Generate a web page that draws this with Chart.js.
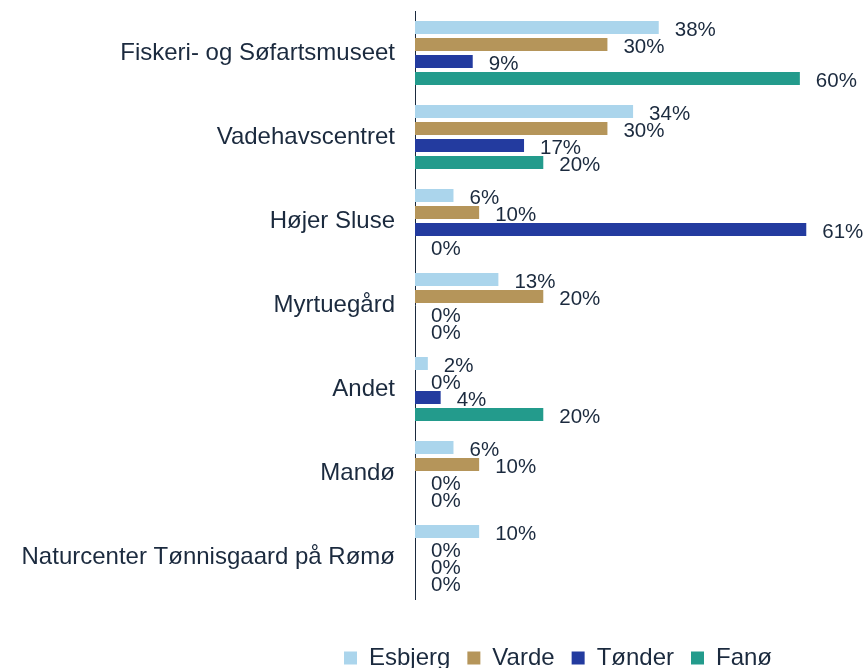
<!DOCTYPE html>
<html>
<head>
<meta charset="utf-8">
<script src="https://cdn.jsdelivr.net/npm/chart.js@4"></script>
<style>
  html, body { margin: 0; padding: 0; background: #fff; }
  #wrap { width: 864px; height: 668px; }
</style>
</head>
<body>
<div id="wrap"><canvas id="chart" width="864" height="668"></canvas></div>
<script>
const categories = [
  "Fiskeri- og Søfartsmuseet",
  "Vadehavscentret",
  "Højer Sluse",
  "Myrtuegård",
  "Andet",
  "Mandø",
  "Naturcenter Tønnisgaard på Rømø",
];
const seriesNames = ["Esbjerg", "Varde", "Tønder", "Fanø"];
const esbjerg = [38, 34, 6, 13, 2, 6, 10];
const varde = [30, 30, 10, 20, 0, 10, 0];
const tonder = [9, 17, 61, 0, 4, 0, 0];
const fano = [60, 20, 0, 0, 20, 0, 0];
const seriesColors = ["#abd5ec", "#b5955a", "#233b9f", "#239b8c"];

const textColor = "#1b2a3e";
const fontFamily = "Arial, 'Liberation Sans', sans-serif";

// write the value next to every bar, also for the 0% ones
const valueLabels = {
  id: "valueLabels",
  afterDatasetsDraw(chart) {
    const ctx = chart.ctx;
    ctx.save();
    ctx.font = "20.5px " + fontFamily;
    ctx.fillStyle = textColor;
    ctx.textAlign = "left";
    ctx.textBaseline = "middle";
    chart.data.datasets.forEach((ds, i) => {
      chart.getDatasetMeta(i).data.forEach((bar, j) => {
        ctx.fillText(ds.data[j] + "%", bar.x + 16, bar.y + 3);
      });
    });
    ctx.restore();
  },
};

// the legend sits under the bars, not in the middle of the page
const legendShift = {
  id: "legendShift",
  afterLayout(chart) {
    chart.legend.left += 126;
    chart.legend.right += 126;
  },
};

const allSeries = [esbjerg, varde, tonder, fano];

new Chart(document.getElementById("chart"), {
  type: "bar",
  data: {
    labels: categories,
    datasets: allSeries.map((values, i) => ({
      label: seriesNames[i],
      data: values,
      backgroundColor: seriesColors[i],
      borderWidth: 0,
      categoryPercentage: 0.81,
      barPercentage: 0.765,
    })),
  },
  options: {
    indexAxis: "y",
    responsive: false,
    animation: false,
    layout: { padding: { top: 11, left: 0, right: 0, bottom: -12 } },
    scales: {
      x: {
        min: 0,
        max: 70,
        ticks: { display: false },
        grid: { display: false },
        border: { display: false },
        // leaves the gap between the bars and the legend
        afterFit(scale) {
          scale.height = 30;
        },
      },
      y: {
        grid: { display: false },
        border: { display: true, color: textColor, width: 1 },
        ticks: {
          color: textColor,
          padding: 12,
          font: { family: fontFamily, size: 24 },
        },
        afterFit(scale) {
          scale.width = 415;
          scale.paddingTop = 0;
          scale.paddingBottom = 0;
        },
      },
    },
    plugins: {
      legend: {
        position: "bottom",
        labels: {
          color: textColor,
          boxWidth: 13,
          boxHeight: 13,
          padding: 17,
          font: { family: fontFamily, size: 24 },
        },
      },
      tooltip: { enabled: false },
    },
  },
  plugins: [valueLabels, legendShift],
});
</script>
</body>
</html>
